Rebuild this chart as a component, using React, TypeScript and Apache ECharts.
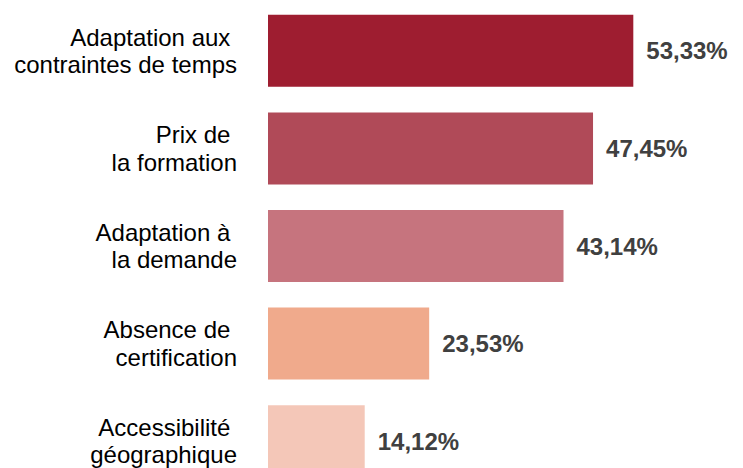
import React, { useEffect, useRef } from "react";
import * as echarts from "echarts";

const categories = [
  "Adaptation aux \ncontraintes de temps",
  "Prix de \nla formation",
  "Adaptation à \nla demande",
  "Absence de \ncertification",
  "Accessibilité \ngéographique",
];
const values = [53.33, 47.45, 43.14, 23.53, 14.12];
const colors = ["#9E1D30", "#B04A58", "#C6747E", "#F0AA8C", "#F4C7B8"];

export default function App() {
  const ref = useRef<HTMLDivElement>(null);
  useEffect(() => {
    if (!ref.current) return;
    const chart = echarts.init(ref.current, null, { renderer: "svg" });
    chart.setOption({
      animation: false,
      grid: { left: 268, right: 64, top: 2, height: 488 },
      xAxis: {
        type: "value",
        min: 0,
        max: 60,
        show: false,
      },
      yAxis: {
        type: "category",
        data: categories,
        inverse: true,
        axisLine: { show: false },
        axisTick: { show: false },
        splitLine: { show: false },
        axisLabel: {
          margin: 31,
          color: "#000000",
          fontFamily: "Liberation Sans, Arial, sans-serif",
          fontSize: 24,
          lineHeight: 27.6,
          align: "right",
        },
      },
      series: [
        {
          type: "bar",
          data: values.map((v, i) => ({ value: v, itemStyle: { color: colors[i] } })),
          barWidth: 72,
          label: {
            show: true,
            position: "right",
            distance: 13,
            color: "#404040",
            fontWeight: "bold",
            fontFamily: "Liberation Sans, Arial, sans-serif",
            fontSize: 24,
            formatter: (p: any) => p.value.toFixed(2).replace(".", ",") + "%",
          },
        },
      ],
    });
    return () => chart.dispose();
  }, []);
  return (
    <div
      ref={ref}
      style={{ position: "absolute", left: 0, top: 0, width: 743, height: 500 }}
    />
  );
}
